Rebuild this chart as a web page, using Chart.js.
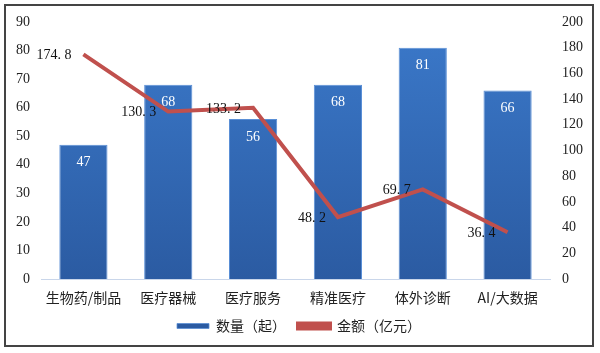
<!DOCTYPE html>
<html><head><meta charset="utf-8">
<script src="https://cdn.jsdelivr.net/npm/chart.js@4"></script>
<style>
html,body{margin:0;padding:0;background:#fff;width:600px;height:353px;overflow:hidden}
#box{position:absolute;left:4px;top:4px;width:590px;height:343px;box-sizing:border-box;border:2px solid #444;background:#fff}
#wrap{position:absolute;left:0;top:0;width:586px;height:339px}
</style></head><body>
<div id="box"><div id="wrap"><canvas id="c"></canvas></div></div>
<script>
const categories = ['生物药/制品','医疗器械','医疗服务','精准医疗','体外诊断','AI/大数据'];
const countValues = [47, 68, 56, 68, 81, 66];
const amountValues = [174.8, 130.3, 133.2, 48.2, 69.7, 36.4];
const seriesNames = ['数量（起）','金额（亿元）'];
const leftTicks = [0,10,20,30,40,50,60,70,80,90];
const rightTicks = [0,20,40,60,80,100,120,140,160,180,200];

const serif = "'Liberation Serif','DejaVu Serif',serif";
const cjk = "'Noto Sans CJK SC','Noto Sans',sans-serif";

const labelPlugin = {
  id:'valueLabels',
  afterDatasetsDraw(chart){
    const ctx = chart.ctx;
    ctx.save();
    ctx.font = "14px " + serif;
    ctx.textBaseline = 'middle';
    const barMeta = chart.getDatasetMeta(1);
    ctx.fillStyle = '#ffffff';
    ctx.textAlign = 'center';
    barMeta.data.forEach((el,i)=>{
      ctx.fillText(String(countValues[i]), el.x, el.y + 18);
    });
    const lineMeta = chart.getDatasetMeta(0);
    ctx.fillStyle = '#111111';
    ctx.textAlign = 'right';
    lineMeta.data.forEach((el,i)=>{
      ctx.fillText(amountValues[i].toFixed(1).replace('.', '. '), el.x - 12, el.y + 1);
    });
    ctx.restore();
  }
};

const ctx = document.getElementById('c');
new Chart(ctx, {
  data:{
    labels: categories,
    datasets:[
      {type:'line', label: seriesNames[1], data: amountValues, yAxisID:'y1',
       borderColor:'#c0504d', backgroundColor:'#c0504d', borderWidth:4,
       pointRadius:0, tension:0, order:0},
      {type:'bar', label: seriesNames[0], data: countValues, yAxisID:'y',
       backgroundColor:(c)=>{
         const a=c.chart.chartArea; if(!a) return '#3a70b8';
         const g=c.chart.ctx.createLinearGradient(0,a.top,0,a.bottom);
         g.addColorStop(0,'#3b79ca'); g.addColorStop(1,'#2b5ba2');
         return g;
       },
       borderColor:'#5a8fd6', borderWidth:{top:1,left:1,right:1,bottom:0},
       categoryPercentage:0.8, barPercentage:0.71, order:1}
    ]
  },
  options:{
    responsive:true, maintainAspectRatio:false, animation:false,
    layout:{padding:{top:16,right:0,left:0,bottom:2}},
    plugins:{
      legend:{position:'bottom', reverse:true,
        labels:{boxWidth:32, boxHeight:5, padding:12, color:'#222',
          font:{family:cjk, size:14}}},
      tooltip:{enabled:false}
    },
    scales:{
      x:{grid:{display:false, drawTicks:false},
         border:{display:true,color:'#c9d6ea',width:1},
         afterFit:(s)=>{s.height=28;},
         ticks:{color:'#222', padding:10, font:{family:cjk,size:14}}},
      y:{position:'left', min:0, max:90,
         afterBuildTicks:(s)=>{s.ticks = leftTicks.map(v=>({value:v}));},
         afterFit:(s)=>{s.width=35;},
         grid:{display:false}, border:{display:false},
         ticks:{color:'#222', padding:3, font:{family:serif,size:14}}},
      y1:{position:'right', min:0, max:200,
         afterBuildTicks:(s)=>{s.ticks = rightTicks.map(v=>({value:v}));},
         afterFit:(s)=>{s.width=42;},
         grid:{display:false}, border:{display:false},
         ticks:{color:'#222', padding:4, font:{family:serif,size:14}}}
    }
  },
  plugins:[labelPlugin]
});
</script>
</body></html>
